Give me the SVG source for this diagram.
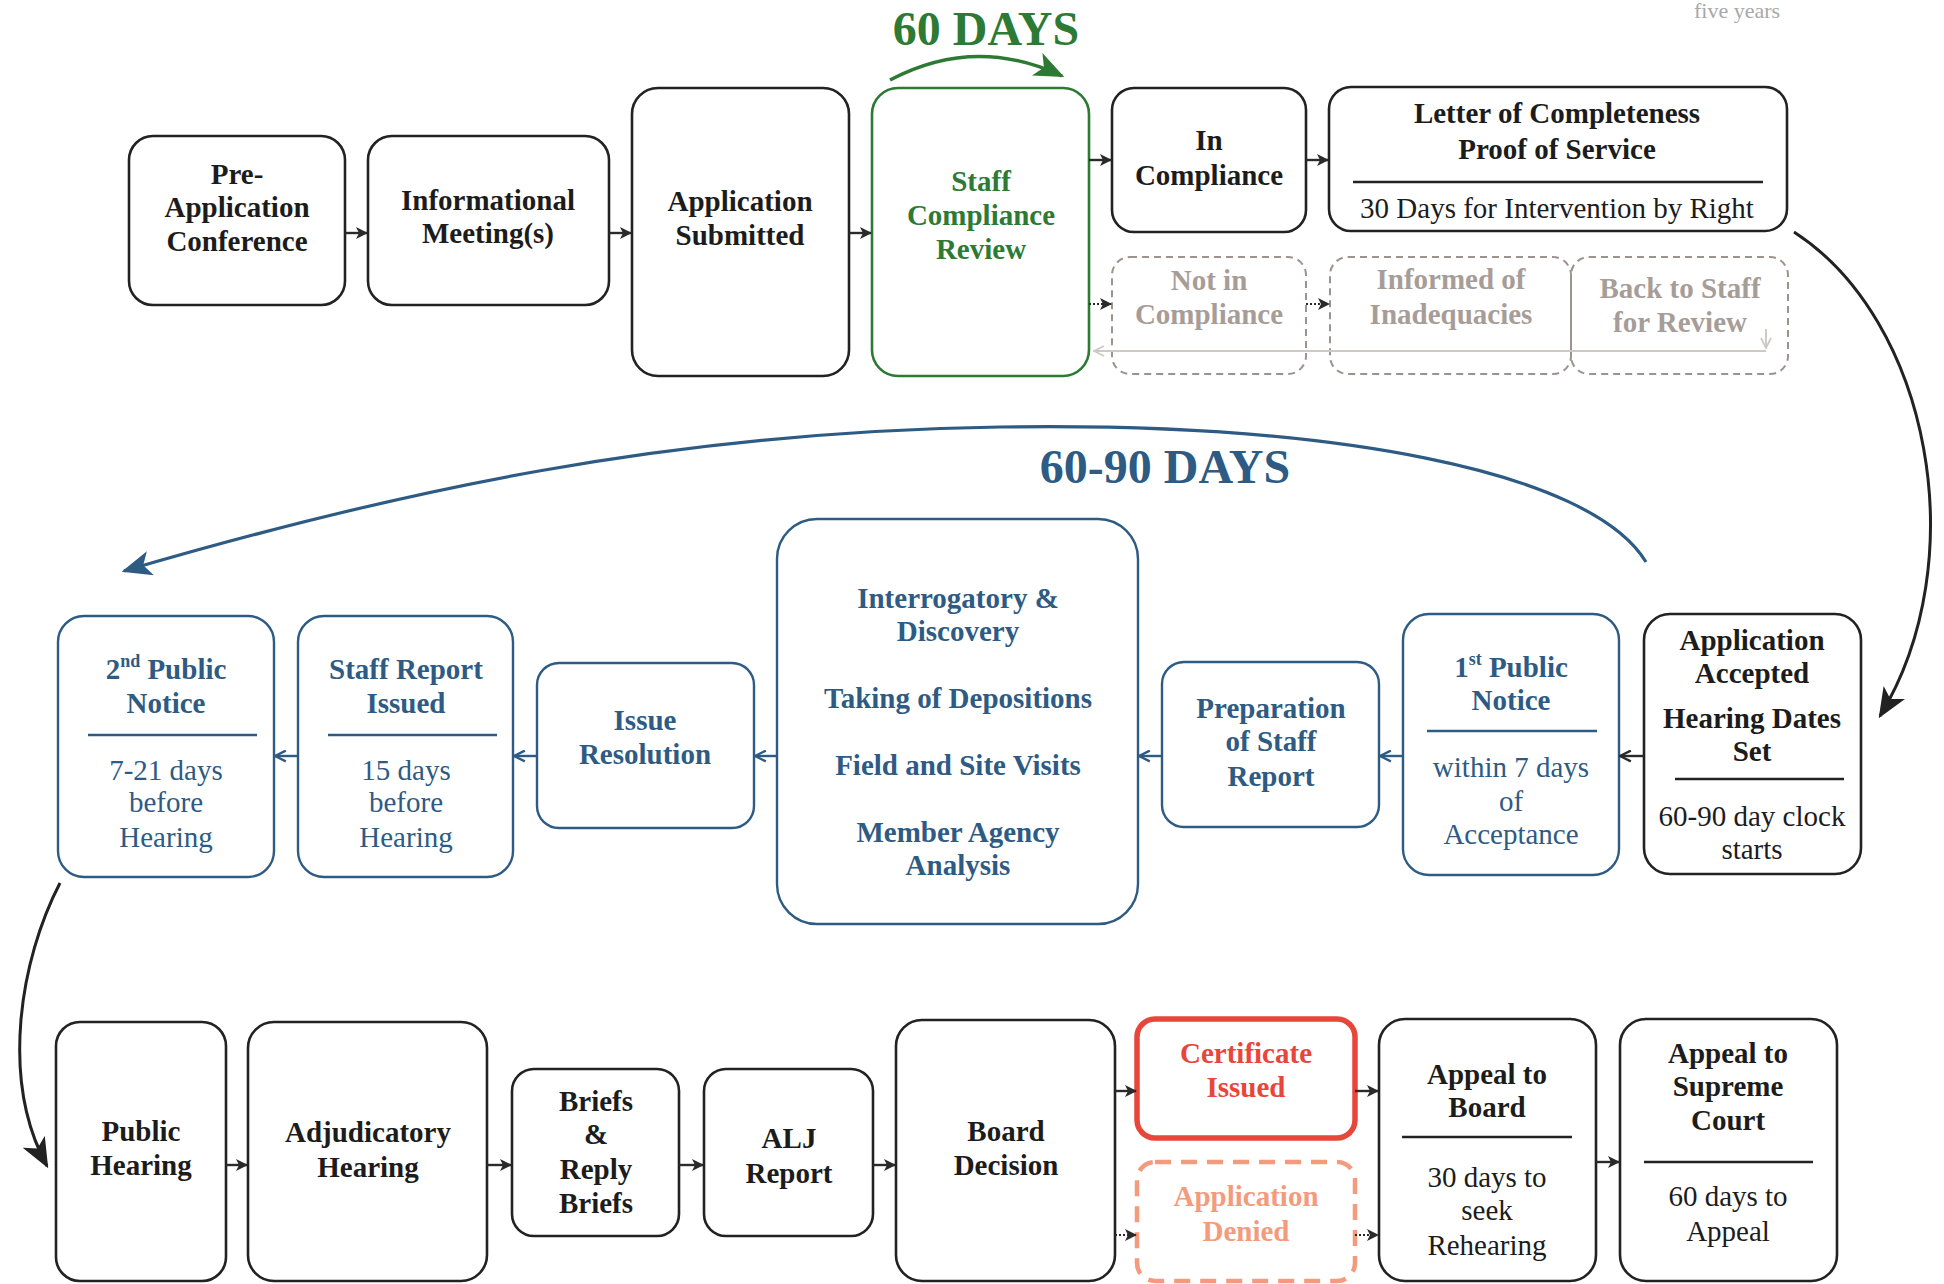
<svg xmlns="http://www.w3.org/2000/svg" width="1944" height="1284" viewBox="0 0 1944 1284">
<style>
text{font-family:"Liberation Serif","Times New Roman",serif;font-size:29px;text-anchor:middle}
.b{font-weight:bold}
.big{font-size:48px}
.k{fill:#1c1c1c}
.g{fill:#2d7a34}
.u{fill:#2e5b84}
.gr{fill:#a79d98}
.rd{fill:#e8453b}
.sa{fill:#f39b7c}
.bx{fill:#fff;stroke:#222;stroke-width:2.6}
.bxg{fill:#fff;stroke:#2d7a34;stroke-width:2.6}
.bxu{fill:#fff;stroke:#2e5b84;stroke-width:2.4}
.bxd{fill:none;stroke:#9d938e;stroke-width:2;stroke-dasharray:7 5}
.bxr{fill:#fff;stroke:#e8453b;stroke-width:5.5}
.bxs{fill:#fff;stroke:#f39b7c;stroke-width:4.5;stroke-dasharray:16 10}
.sep{stroke:#222;stroke-width:2.6}
.sepu{stroke:#2e5b84;stroke-width:2.6}
.c{fill:none;stroke:#2a2a2a;stroke-width:2.4}
.cd{fill:none;stroke:#2a2a2a;stroke-width:2;stroke-dasharray:2 2}
.cu{fill:none;stroke:#2e5b84;stroke-width:2.4}
.cg{fill:none;stroke:#cfc9c6;stroke-width:2}
</style>
<defs>
<marker id="ak" viewBox="0 0 12 12" refX="11" refY="6" markerWidth="12" markerHeight="12" markerUnits="userSpaceOnUse" orient="auto"><path d="M0,0 L12,6 L0,12 L3,6 z" fill="#2a2a2a"/></marker>
<marker id="au" viewBox="0 0 12 12" refX="11" refY="6" markerWidth="13" markerHeight="13" markerUnits="userSpaceOnUse" orient="auto"><path d="M1,1 L11,6 L1,11" fill="none" stroke="#2e5b84" stroke-width="2.2"/></marker>
<marker id="akc" viewBox="0 0 12 12" refX="11" refY="6" markerWidth="13" markerHeight="13" markerUnits="userSpaceOnUse" orient="auto"><path d="M1,1 L11,6 L1,11" fill="none" stroke="#2a2a2a" stroke-width="2.2"/></marker>
<marker id="ag" viewBox="0 0 24 20" refX="22" refY="10" markerWidth="30" markerHeight="25" markerUnits="userSpaceOnUse" orient="auto"><path d="M0,0 L24,10 L0,20 L6,10 z" fill="#2d7a34"/></marker>
<marker id="abig" viewBox="0 0 24 20" refX="22" refY="10" markerWidth="30" markerHeight="25" markerUnits="userSpaceOnUse" orient="auto"><path d="M0,0 L24,10 L0,20 L6,10 z" fill="#222"/></marker>
<marker id="ubig" viewBox="0 0 24 20" refX="22" refY="10" markerWidth="30" markerHeight="25" markerUnits="userSpaceOnUse" orient="auto"><path d="M0,0 L24,10 L0,20 L6,10 z" fill="#2e5b84"/></marker>
<marker id="agr" viewBox="0 0 12 12" refX="11" refY="6" markerWidth="12" markerHeight="12" markerUnits="userSpaceOnUse" orient="auto"><path d="M1,1 L11,6 L1,11" fill="none" stroke="#cfc9c6" stroke-width="1.8"/></marker>
</defs>

<text x="1737" y="18" fill="#a8a8a8" style="font-size:22px">five years</text>

<g id="label-60days"><text class="b g big" x="986" y="45">60 DAYS</text></g>
<g id="label-6090days"><text class="b u big" x="1165" y="483">60-90 DAYS</text></g>

<!-- Row 1 -->
<g id="pre-application">
<rect class="bx" x="129" y="136" width="216" height="169" rx="24"/>
<text class="b k" x="237" y="184">Pre-</text>
<text class="b k" x="237" y="217">Application</text>
<text class="b k" x="237" y="251">Conference</text>
</g>
<g id="informational">
<rect class="bx" x="368" y="136" width="241" height="169" rx="24"/>
<text class="b k" x="488" y="210">Informational</text>
<text class="b k" x="488" y="243">Meeting(s)</text>
</g>
<g id="app-submitted">
<rect class="bx" x="632" y="88" width="217" height="288" rx="26"/>
<text class="b k" x="740" y="211">Application</text>
<text class="b k" x="740" y="245">Submitted</text>
</g>
<g id="staff-review">
<rect class="bxg" x="872" y="88" width="217" height="288" rx="26"/>
<text class="b g" x="981" y="191">Staff</text>
<text class="b g" x="981" y="225">Compliance</text>
<text class="b g" x="981" y="259">Review</text>
</g>
<g id="in-compliance">
<rect class="bx" x="1112" y="88" width="194" height="144" rx="22"/>
<text class="b k" x="1209" y="150">In</text>
<text class="b k" x="1209" y="185">Compliance</text>
</g>
<g id="letter">
<rect class="bx" x="1329" y="87" width="458" height="144" rx="22"/>
<text class="b k" x="1557" y="123">Letter of Completeness</text>
<text class="b k" x="1557" y="159">Proof of Service</text>
<line class="sep" x1="1353" y1="182" x2="1763" y2="182"/>
<text class="k" x="1557" y="218">30 Days for Intervention by Right</text>
</g>
<g id="not-in-compliance">
<rect class="bxd" x="1112" y="257" width="194" height="117" rx="18"/>
<text class="b gr" x="1209" y="290">Not in</text>
<text class="b gr" x="1209" y="324">Compliance</text>
</g>
<g id="informed">
<rect class="bxd" x="1330" y="257" width="241" height="117" rx="18"/>
<text class="b gr" x="1451" y="289">Informed of</text>
<text class="b gr" x="1451" y="324">Inadequacies</text>
</g>
<g id="back-to-staff">
<rect class="bxd" x="1571" y="257" width="217" height="117" rx="18"/>
<text class="b gr" x="1680" y="298">Back to Staff</text>
<text class="b gr" x="1680" y="332">for Review</text>
</g>

<!-- Row 2 -->
<g id="second-notice">
<rect class="bxu" x="58" y="616" width="216" height="261" rx="26"/>
<text class="b u" x="166" y="679">2<tspan font-size="18" dy="-12">nd</tspan><tspan dy="12"> Public</tspan></text>
<text class="b u" x="166" y="713">Notice</text>
<line class="sepu" x1="88" y1="735" x2="257" y2="735"/>
<text class="u" x="166" y="780">7-21 days</text>
<text class="u" x="166" y="812">before</text>
<text class="u" x="166" y="847">Hearing</text>
</g>
<g id="staff-report">
<rect class="bxu" x="298" y="616" width="215" height="261" rx="26"/>
<text class="b u" x="406" y="679">Staff Report</text>
<text class="b u" x="406" y="713">Issued</text>
<line class="sepu" x1="328" y1="735" x2="497" y2="735"/>
<text class="u" x="406" y="780">15 days</text>
<text class="u" x="406" y="812">before</text>
<text class="u" x="406" y="847">Hearing</text>
</g>
<g id="issue-resolution">
<rect class="bxu" x="537" y="663" width="217" height="165" rx="22"/>
<text class="b u" x="645" y="730">Issue</text>
<text class="b u" x="645" y="764">Resolution</text>
</g>
<g id="interrogatory">
<rect class="bxu" x="777" y="519" width="361" height="405" rx="40"/>
<text class="b u" x="958" y="608">Interrogatory &amp;</text>
<text class="b u" x="958" y="641">Discovery</text>
<text class="b u" x="958" y="708">Taking of Depositions</text>
<text class="b u" x="958" y="775">Field and Site Visits</text>
<text class="b u" x="958" y="842">Member Agency</text>
<text class="b u" x="958" y="875">Analysis</text>
</g>
<g id="preparation">
<rect class="bxu" x="1162" y="662" width="217" height="165" rx="22"/>
<text class="b u" x="1271" y="718">Preparation</text>
<text class="b u" x="1271" y="751">of Staff</text>
<text class="b u" x="1271" y="786">Report</text>
</g>
<g id="first-notice">
<rect class="bxu" x="1403" y="614" width="216" height="261" rx="26"/>
<text class="b u" x="1511" y="677">1<tspan font-size="18" dy="-12">st</tspan><tspan dy="12"> Public</tspan></text>
<text class="b u" x="1511" y="710">Notice</text>
<line class="sepu" x1="1427" y1="731" x2="1597" y2="731"/>
<text class="u" x="1511" y="777">within 7 days</text>
<text class="u" x="1511" y="811">of</text>
<text class="u" x="1511" y="844">Acceptance</text>
</g>
<g id="app-accepted">
<rect class="bx" x="1644" y="614" width="217" height="260" rx="26"/>
<text class="b k" x="1752" y="650">Application</text>
<text class="b k" x="1752" y="683">Accepted</text>
<text class="b k" x="1752" y="728">Hearing Dates</text>
<text class="b k" x="1752" y="761">Set</text>
<line class="sep" x1="1675" y1="779" x2="1844" y2="779"/>
<text class="k" x="1752" y="826">60-90 day clock</text>
<text class="k" x="1752" y="859">starts</text>
</g>

<!-- Row 3 -->
<g id="public-hearing">
<rect class="bx" x="56" y="1022" width="170" height="259" rx="24"/>
<text class="b k" x="141" y="1141">Public</text>
<text class="b k" x="141" y="1175">Hearing</text>
</g>
<g id="adjudicatory">
<rect class="bx" x="248" y="1022" width="239" height="259" rx="26"/>
<text class="b k" x="368" y="1142">Adjudicatory</text>
<text class="b k" x="368" y="1177">Hearing</text>
</g>
<g id="briefs">
<rect class="bx" x="512" y="1069" width="167" height="167" rx="22"/>
<text class="b k" x="596" y="1111">Briefs</text>
<text class="b k" x="596" y="1144">&amp;</text>
<text class="b k" x="596" y="1179">Reply</text>
<text class="b k" x="596" y="1213">Briefs</text>
</g>
<g id="alj-report">
<rect class="bx" x="704" y="1069" width="169" height="167" rx="22"/>
<text class="b k" x="789" y="1148">ALJ</text>
<text class="b k" x="789" y="1183">Report</text>
</g>
<g id="board-decision">
<rect class="bx" x="896" y="1020" width="219" height="261" rx="26"/>
<text class="b k" x="1006" y="1141">Board</text>
<text class="b k" x="1006" y="1175">Decision</text>
</g>
<g id="certificate">
<rect class="bxr" x="1137" y="1019" width="218" height="119" rx="18"/>
<text class="b rd" x="1246" y="1063">Certificate</text>
<text class="b rd" x="1246" y="1097">Issued</text>
</g>
<g id="denied">
<rect class="bxs" x="1137" y="1162" width="218" height="119" rx="18"/>
<text class="b sa" x="1246" y="1206">Application</text>
<text class="b sa" x="1246" y="1241">Denied</text>
</g>
<g id="appeal-board">
<rect class="bx" x="1379" y="1019" width="217" height="262" rx="26"/>
<text class="b k" x="1487" y="1084">Appeal to</text>
<text class="b k" x="1487" y="1117">Board</text>
<line class="sep" x1="1402" y1="1137" x2="1572" y2="1137"/>
<text class="k" x="1487" y="1187">30 days to</text>
<text class="k" x="1487" y="1220">seek</text>
<text class="k" x="1487" y="1255">Rehearing</text>
</g>
<g id="appeal-supreme">
<rect class="bx" x="1620" y="1019" width="217" height="262" rx="26"/>
<text class="b k" x="1728" y="1063">Appeal to</text>
<text class="b k" x="1728" y="1096">Supreme</text>
<text class="b k" x="1728" y="1130">Court</text>
<line class="sep" x1="1644" y1="1162" x2="1813" y2="1162"/>
<text class="k" x="1728" y="1206">60 days to</text>
<text class="k" x="1728" y="1241">Appeal</text>
</g>

<g id="connectors">
<!-- row 1 -->
<path class="c" d="M345,233 H367" marker-end="url(#ak)"/>
<path class="c" d="M609,233 H631" marker-end="url(#ak)"/>
<path class="c" d="M849,233 H871" marker-end="url(#ak)"/>
<path class="c" d="M1089,160 H1111" marker-end="url(#ak)"/>
<path class="c" d="M1306,160 H1328" marker-end="url(#ak)"/>
<path class="cd" d="M1089,304 H1111" marker-end="url(#ak)"/>
<path class="cd" d="M1306,304 H1329" marker-end="url(#ak)"/>
<path class="cg" d="M1766,351 H1094" marker-end="url(#agr)"/>
<path class="cg" d="M1766,329 V348" marker-end="url(#agr)"/>
<path d="M890,80 Q975,35 1062,76" fill="none" stroke="#2d7a34" stroke-width="3.5" marker-end="url(#ag)"/>
<path d="M1794,232 C1930,320 1975,560 1880,716" fill="none" stroke="#222" stroke-width="3" marker-end="url(#abig)"/>
<!-- row 2 -->
<path d="M1646,562 C1590,470 1330,422 1000,427 C670,432 400,490 124,571" fill="none" stroke="#2e5b84" stroke-width="3.2" marker-end="url(#ubig)"/>
<path class="c" d="M1644,756 H1620" marker-end="url(#akc)"/>
<path class="cu" d="M1403,756 H1380" marker-end="url(#au)"/>
<path class="cu" d="M1162,756 H1139" marker-end="url(#au)"/>
<path class="cu" d="M777,756 H755" marker-end="url(#au)"/>
<path class="cu" d="M537,756 H514" marker-end="url(#au)"/>
<path class="cu" d="M298,756 H275" marker-end="url(#au)"/>
<path d="M60,883 C20,960 0,1080 47,1166" fill="none" stroke="#222" stroke-width="3" marker-end="url(#abig)"/>
<!-- row 3 -->
<path class="c" d="M226,1165 H247" marker-end="url(#ak)"/>
<path class="c" d="M487,1165 H511" marker-end="url(#ak)"/>
<path class="c" d="M679,1165 H703" marker-end="url(#ak)"/>
<path class="c" d="M873,1165 H895" marker-end="url(#ak)"/>
<path class="c" d="M1115,1091 H1136" marker-end="url(#ak)"/>
<path class="cd" d="M1115,1235 H1136" marker-end="url(#ak)"/>
<path class="c" d="M1355,1091 H1378" marker-end="url(#ak)"/>
<path class="cd" d="M1355,1235 H1378" marker-end="url(#ak)"/>
<path class="c" d="M1596,1162 H1619" marker-end="url(#ak)"/>
</g>
</svg>
